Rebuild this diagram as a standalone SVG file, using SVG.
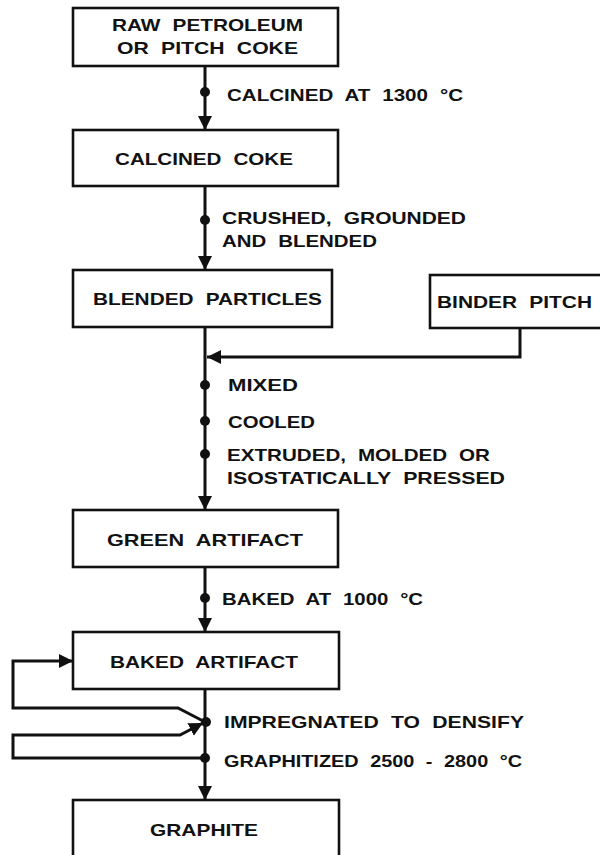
<svg xmlns="http://www.w3.org/2000/svg" width="600" height="855" viewBox="0 0 600 855">
<style>
.box{fill:#fff;stroke:#111;stroke-width:2.6}
.t{font-family:"Liberation Sans",Arial,sans-serif;font-weight:bold;font-size:16.5px;word-spacing:5px;fill:#111}
.ln{fill:none;stroke:#111;stroke-width:3}
.dot{fill:#111}
</style>
<defs>
<marker id="ah" markerUnits="userSpaceOnUse" markerWidth="14" markerHeight="16" viewBox="0 0 14 16" refX="14" refY="8" orient="auto">
<path d="M0,1 L14,8 L0,15 Z" fill="#111"/>
</marker>
</defs>
<rect width="600" height="855" fill="#fff"/>
<g id="connectors">
<line class="ln" x1="205" y1="66" x2="205" y2="130" marker-end="url(#ah)"/>
<line class="ln" x1="205" y1="186" x2="205" y2="270" marker-end="url(#ah)"/>
<line class="ln" x1="205" y1="327" x2="205" y2="510" marker-end="url(#ah)"/>
<polyline class="ln" points="520,328 520,357 207,357" marker-end="url(#ah)"/>
<line class="ln" x1="205" y1="567" x2="205" y2="632" marker-end="url(#ah)"/>
<line class="ln" x1="205" y1="689" x2="205" y2="800" marker-end="url(#ah)"/>
<polyline class="ln" points="205,722 178,708 13,708 13,661 73,661" marker-end="url(#ah)"/>
<polyline class="ln" points="205,758 13,758 13,735 180,735 203,723" marker-end="url(#ah)"/>
<circle class="dot" cx="205" cy="92" r="5"/>
<circle class="dot" cx="205" cy="220" r="5"/>
<circle class="dot" cx="205" cy="385" r="5"/>
<circle class="dot" cx="205" cy="421" r="5"/>
<circle class="dot" cx="205" cy="454" r="5"/>
<circle class="dot" cx="205" cy="598" r="5"/>
<circle class="dot" cx="206" cy="722" r="5"/>
<circle class="dot" cx="205" cy="758" r="5"/>
</g>
<g id="labels">
<text class="t" x="227" y="101" textLength="236" lengthAdjust="spacingAndGlyphs">CALCINED AT 1300 °C</text>
<text class="t" x="222" y="224" textLength="244" lengthAdjust="spacingAndGlyphs">CRUSHED, GROUNDED</text>
<text class="t" x="222" y="247" textLength="155" lengthAdjust="spacingAndGlyphs">AND BLENDED</text>
<text class="t" x="228" y="391" textLength="70" lengthAdjust="spacingAndGlyphs">MIXED</text>
<text class="t" x="228" y="428" textLength="87" lengthAdjust="spacingAndGlyphs">COOLED</text>
<text class="t" x="227" y="461" textLength="263" lengthAdjust="spacingAndGlyphs">EXTRUDED, MOLDED OR</text>
<text class="t" x="227" y="484" textLength="278" lengthAdjust="spacingAndGlyphs">ISOSTATICALLY PRESSED</text>
<text class="t" x="222" y="605" textLength="201" lengthAdjust="spacingAndGlyphs">BAKED AT 1000 °C</text>
<text class="t" x="224" y="728" textLength="300" lengthAdjust="spacingAndGlyphs">IMPREGNATED TO DENSIFY</text>
<text class="t" x="224" y="767" textLength="298" lengthAdjust="spacingAndGlyphs">GRAPHITIZED 2500 - 2800 °C</text>
</g>
<g id="raw">
<rect class="box" x="73" y="8" width="265" height="58"/>
<text class="t" x="112" y="31" textLength="191" lengthAdjust="spacingAndGlyphs">RAW PETROLEUM</text>
<text class="t" x="117" y="54" textLength="181" lengthAdjust="spacingAndGlyphs">OR PITCH COKE</text>
</g>
<g id="calcined">
<rect class="box" x="73" y="130" width="265" height="56"/>
<text class="t" x="115" y="165" textLength="178" lengthAdjust="spacingAndGlyphs">CALCINED COKE</text>
</g>
<g id="blended">
<rect class="box" x="73" y="270" width="259" height="57"/>
<text class="t" x="93" y="305" textLength="229" lengthAdjust="spacingAndGlyphs">BLENDED PARTICLES</text>
</g>
<g id="binder">
<rect class="box" x="430" y="275" width="175" height="53"/>
<text class="t" x="437" y="308" textLength="155" lengthAdjust="spacingAndGlyphs">BINDER PITCH</text>
</g>
<g id="green">
<rect class="box" x="73" y="510" width="265" height="57"/>
<text class="t" x="107" y="546" textLength="196" lengthAdjust="spacingAndGlyphs">GREEN ARTIFACT</text>
</g>
<g id="baked">
<rect class="box" x="73" y="632" width="266" height="57"/>
<text class="t" x="110" y="668" textLength="188" lengthAdjust="spacingAndGlyphs">BAKED ARTIFACT</text>
</g>
<g id="graphite">
<rect class="box" x="73" y="800" width="266" height="70"/>
<text class="t" x="150" y="836" textLength="108" lengthAdjust="spacingAndGlyphs">GRAPHITE</text>
</g>
</svg>
